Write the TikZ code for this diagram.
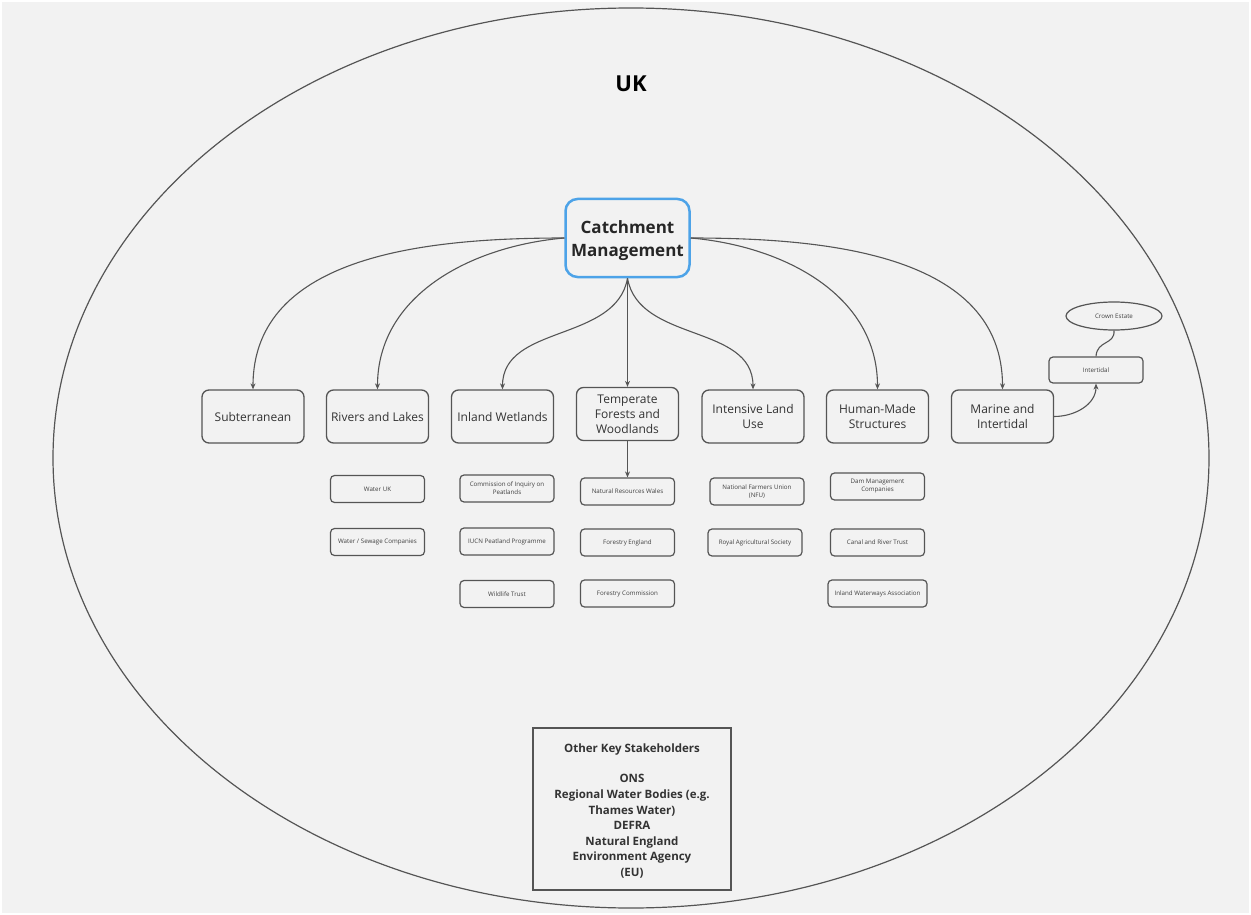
\documentclass[tikz,border=0pt]{standalone}
\usepackage{fontspec}
\setmainfont{Open Sans}
\usetikzlibrary{arrows.meta,shapes.geometric}
\definecolor{bg}{HTML}{F2F2F2}
\definecolor{ln}{HTML}{555555}
\definecolor{blu}{HTML}{4DA3E8}
\tikzset{
  cat/.style={draw=ln, line width=1.3pt, rounded corners=7pt, minimum width=102pt, minimum height=53pt, align=center, font=\fontsize{12}{15}\selectfont, text=black!80, inner sep=2pt},
  sub/.style={draw=ln, line width=1.2pt, rounded corners=4pt, minimum width=94pt, minimum height=27pt, align=center, font=\fontsize{6.2}{8}\selectfont, text=black!75, inner sep=1pt},
  conn/.style={draw=ln, line width=1.1pt, -{Stealth[length=6pt,width=5pt]}},
}
\begin{document}
\begin{tikzpicture}[x=1pt,y=-1pt]
\useasboundingbox (0,0) rectangle (1251,915);
\fill[white] (0,0) rectangle (1251,915);
\fill[bg] (2,2) rectangle (1249,913);
\draw[ln, line width=1.2pt] (631,458) ellipse [x radius=578, y radius=450];
\node[font=\fontsize{22}{26}\selectfont\bfseries] (uk) at (631,84) {UK};

\node[draw=blu, line width=2.5pt, rounded corners=12pt, minimum width=124pt, minimum height=78pt] (cm) at (627.5,238) {};
\node[align=center, font=\fontsize{17}{23}\selectfont\bfseries, text=black!85] (cmt) at ([yshift=-3pt]cm.center) {Catchment\\Management};

\node[cat] (sb) at (253,416.5) {Subterranean};
\node[cat] (rl) at (377.5,416.5) {Rivers and Lakes};
\node[cat] (iw) at (502.5,416.5) {Inland Wetlands};
\node[cat] (tf) at (627.5,414) {Temperate\\Forests and\\Woodlands};
\node[cat] (il) at (753,416.5) {Intensive Land\\Use};
\node[cat] (hm) at (877.5,416.5) {Human-Made\\Structures};
\node[cat] (mi) at (1002.5,416.5) {Marine and\\Intertidal};

\draw[conn] (cm.west) to[out=180,in=90] (sb.north);
\draw[conn] (cm.west) to[out=185,in=90] (rl.north);
\draw[conn] (cm.south) to[out=-100,in=90, looseness=1] (iw.north);
\draw[conn] (cm.south) -- (tf.north);
\draw[conn] (cm.south) to[out=-80,in=90, looseness=1] (il.north);
\draw[conn] (cm.east) to[out=-5,in=90] (hm.north);
\draw[conn] (cm.east) to[out=0,in=90] (mi.north);

\node[sub] (wuk) at (377.5,489) {Water UK};
\node[sub] (wsc) at (377.5,542) {Water / Sewage Companies};
\node[sub] (cip) at (507,488.5) {Commission of Inquiry on\\Peatlands};
\node[sub] (iucn) at (507,541.5) {IUCN Peatland Programme};
\node[sub] (wt) at (507,594) {Wildlife Trust};
\node[sub] (nrw) at (627.5,491.5) {Natural Resources Wales};
\node[sub] (fe) at (627.5,542.5) {Forestry England};
\node[sub] (fc) at (627.5,593.5) {Forestry Commission};
\node[sub] (nfu) at (757,491.5) {National Farmers Union\\(NFU)};
\node[sub] (ras) at (755,542.5) {Royal Agricultural Society};
\node[sub] (dam) at (877.5,486.5) {Dam Management\\Companies};
\node[sub] (crt) at (877.5,542.5) {Canal and River Trust};
\node[sub, minimum width=99pt] (iwa) at (877.5,593.5) {Inland Waterways Association};

\draw[conn] (tf.south) -- (nrw.north);

\node[sub, minimum width=94pt, minimum height=26pt] (int) at (1096,370) {Intertidal};
\node[draw=ln, line width=1.2pt, ellipse, minimum width=96pt, minimum height=28pt, inner sep=0pt, font=\fontsize{6.2}{8}\selectfont, text=black!75] (ce) at (1114,316) {Crown Estate};
\draw[ln, line width=1.1pt] (ce.south) .. controls (1115,345) and (1097,340) .. (int.north);
\draw[conn] (mi.east) to[out=0,in=-90] (int.south);

\node[draw=ln, line width=1.3pt, minimum width=198pt, minimum height=162pt] (oks) at (632,809) {};
\node[align=center, font=\fontsize{11.5}{15.6}\selectfont\bfseries, text=black!80] (okst) at ([yshift=-2pt]oks.center) {Other Key Stakeholders\\[15pt]ONS\\Regional Water Bodies (e.g.\\Thames Water)\\DEFRA\\Natural England\\Environment Agency\\(EU)};
\end{tikzpicture}
\end{document}
